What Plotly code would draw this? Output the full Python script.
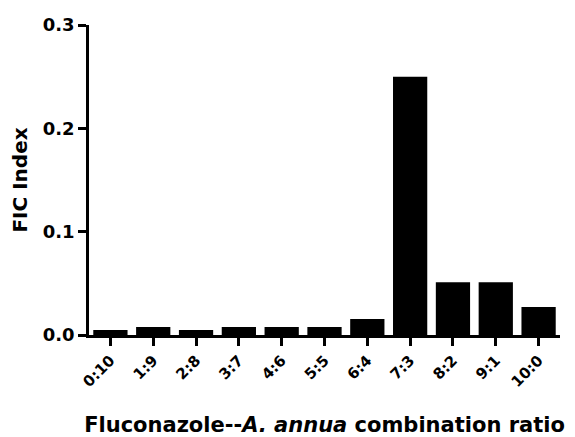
import plotly.graph_objects as go

categories = ["0:10", "1:9", "2:8", "3:7", "4:6", "5:5", "6:4", "7:3", "8:2", "9:1", "10:0"]
fic_index = [0.0049, 0.0078, 0.0049, 0.0078, 0.0078, 0.0078, 0.0156, 0.25, 0.051, 0.051, 0.027]
y_ticks = [0.0, 0.1, 0.2, 0.3]
y_tick_labels = ["0.0", "0.1", "0.2", "0.3"]

FONT = "DejaVu Sans, Arial, sans-serif"

fig = go.Figure(go.Bar(
    x=categories, y=fic_index,
    marker=dict(color="black", line=dict(width=0)),
    width=0.8,
))

# page body has an 8px default margin, so the figure is 8px smaller
fig.update_layout(
    width=567, height=429,
    margin=dict(l=81, r=15, t=17, b=102),
    plot_bgcolor="white", paper_bgcolor="white",
    showlegend=False,
    font=dict(family=FONT, color="black"),
)
fig.update_xaxes(
    type="category", range=[-0.5, 10.5], automargin=False,
    showline=True, linecolor="black", linewidth=2.5,
    ticks="outside", ticklen=8, tickwidth=2.5, tickcolor="black",
    tickangle=-45, tickfont=dict(size=15, family=FONT, weight="bold"),
    showgrid=False, zeroline=False,
    title=dict(text="Fluconazole--<i>A. annua</i> combination ratio",
               font=dict(size=21, family=FONT, weight="bold"), standoff=31),
)
fig.update_yaxes(
    range=[0, 0.3], tickvals=y_ticks, ticktext=y_tick_labels, automargin=False,
    showline=True, linecolor="black", linewidth=2.5,
    ticks="outside", ticklen=8, tickwidth=2.5, tickcolor="black",
    tickfont=dict(size=18, family=FONT, weight="bold"),
    showgrid=False, zeroline=False,
    title=dict(text="FIC Index", font=dict(size=20, family=FONT, weight="bold"), standoff=10),
)

fig.write_html("out.html")
